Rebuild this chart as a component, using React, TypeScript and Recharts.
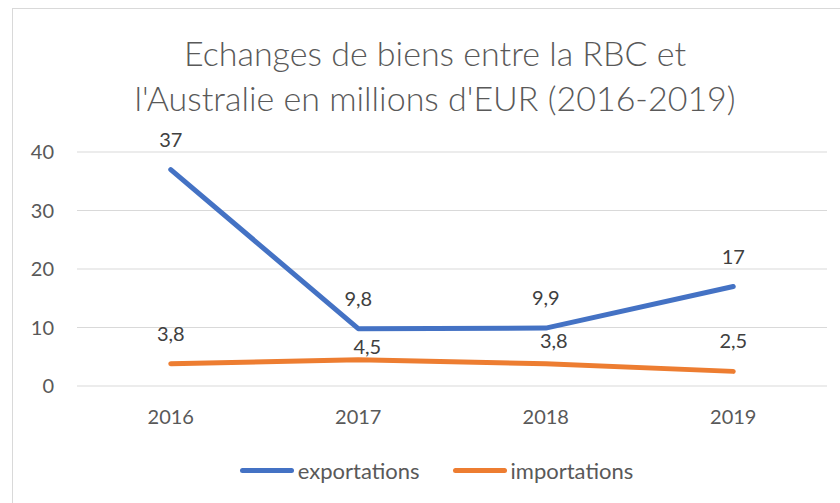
import React from "react";
import { LineChart, Line, XAxis, YAxis, CartesianGrid, Legend, LabelList } from "recharts";

const years = ["2016", "2017", "2018", "2019"];
const exportations = [37, 9.8, 9.9, 17];
const importations = [3.8, 4.5, 3.8, 2.5];
const yTicks = [0, 10, 20, 30, 40];
const titleLines = ["Echanges de biens entre la RBC et", "l'Australie en millions d'EUR (2016-2019)"];
const seriesNames = ["exportations", "importations"];

const data = years.map((y, i) => ({ year: y, exportations: exportations[i], importations: importations[i] }));

const FONT = "Lato, 'Open Sans', sans-serif";
const BLUE = "#4472C4";
const ORANGE = "#ED7D31";

const fmt = (v: number) => String(v).replace(".", ",");

// label placement styles (pixels above the point / horizontal shift)
const expDy = [31, 31, 31, 31];
const expDx = [0, 0, 0, 0];
const impDy = [31, 14, 24, 31];
const impDx = [0, 9, 8, 0];

const makeLabel = (dys: number[], dxs: number[]) => (props: any) => {
  const { x, y, value, index } = props;
  return (
    <text
      x={x + dxs[index]}
      y={y - dys[index]}
      textAnchor="middle"
      dominantBaseline="central"
      fontFamily={FONT}
      fontSize={20}
      fill="#404040"
    >
      {fmt(value)}
    </text>
  );
};

const LegendContent = () => (
  <div style={{ height: 30, paddingLeft: 46, display: "flex", justifyContent: "center", alignItems: "center", fontFamily: FONT, fontSize: 22, color: "#595959" }}>
    {seriesNames.map((n, i) => (
      <div key={n} style={{ display: "flex", alignItems: "center", marginLeft: i ? 33 : 0 }}>
        <div style={{ width: 54, height: 5, borderRadius: 3, background: i ? ORANGE : BLUE, marginRight: 4 }} />
        <span>{n}</span>
      </div>
    ))}
  </div>
);

export default function App() {
  return (
    <div style={{ position: "absolute", left: 0, top: 0, width: 840, height: 503, overflow: "hidden", background: "#fff" }}>
      <div style={{ position: "absolute", left: 12, top: 8, width: 900, height: 600, border: "1px solid #d9d9d9" }} />
      <div style={{ position: "absolute", left: 15, top: 30, width: 840, textAlign: "center", fontFamily: FONT, fontWeight: 300, fontSize: 34, lineHeight: "45px", color: "#595959" }}>
        {titleLines.map((l) => (
          <div key={l}>{l}</div>
        ))}
      </div>
      <div style={{ position: "absolute", left: 0, top: 0 }}>
        <LineChart width={840} height={503} data={data} margin={{ top: 152, right: 13, left: 0, bottom: 18 }}>
          <CartesianGrid vertical={false} stroke="#d9d9d9" strokeWidth={1} />
          <XAxis
            dataKey="year"
            scale="band"
            axisLine={false}
            tickLine={false}
            tickSize={0}
            tickMargin={24}
            height={69}
            tick={{ fontFamily: FONT, fontSize: 20, fill: "#595959" }}
          />
          <YAxis
            domain={[0, 40]}
            ticks={yTicks}
            axisLine={false}
            tickLine={false}
            tickSize={0}
            tickMargin={23}
            width={77}
            tick={{ fontFamily: FONT, fontSize: 20, fill: "#595959" }}
          />
          <Legend verticalAlign="bottom" content={<LegendContent />} />
          <Line
            dataKey="exportations"
            name="exportations"
            stroke={BLUE}
            strokeWidth={5}
            strokeLinecap="round"
            strokeLinejoin="round"
            dot={false}
            activeDot={false}
            isAnimationActive={false}
          >
            <LabelList dataKey="exportations" content={makeLabel(expDy, expDx)} />
          </Line>
          <Line
            dataKey="importations"
            name="importations"
            stroke={ORANGE}
            strokeWidth={5}
            strokeLinecap="round"
            strokeLinejoin="round"
            dot={false}
            activeDot={false}
            isAnimationActive={false}
          >
            <LabelList dataKey="importations" content={makeLabel(impDy, impDx)} />
          </Line>
        </LineChart>
      </div>
    </div>
  );
}
